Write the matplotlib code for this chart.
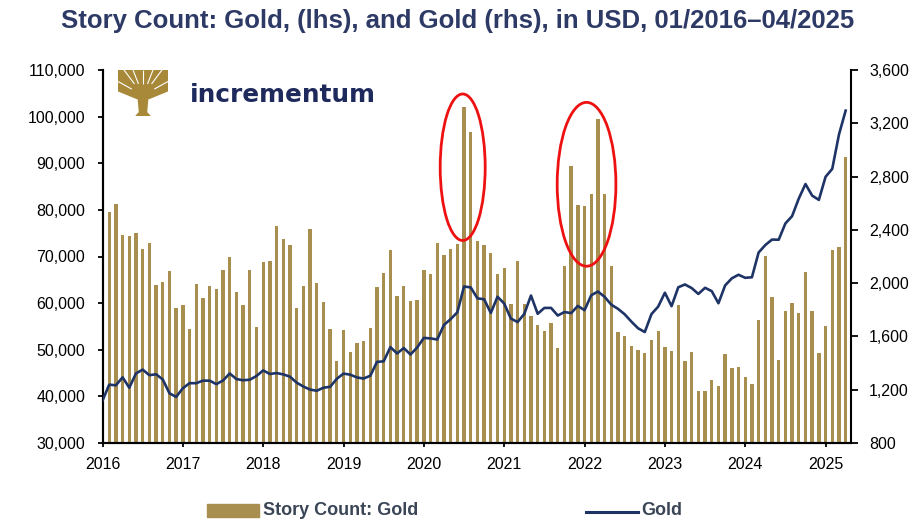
import matplotlib
matplotlib.use("Agg")
import matplotlib.pyplot as plt
from matplotlib.patches import Ellipse, Rectangle, Polygon
from matplotlib.lines import Line2D

plt.rcParams['font.family'] = ['Liberation Sans', 'DejaVu Sans']

# ---------------- data ----------------
year_labels = ['2016', '2017', '2018', '2019', '2020', '2021', '2022', '2023', '2024', '2025']

# monthly story count (bars), Feb 2016 .. Apr 2025 as placed on the chart
story_count = [
    79600, 81300, 74700, 74300, 75000, 71700, 72800, 63900, 64500, 66900, 58900,
    59700, 54500, 64200, 61000, 63600, 63000, 67000, 69900, 62400, 59600, 67000, 54800,
    68900, 69000, 76500, 73800, 72500, 58900, 63700, 75800, 64300, 60300, 54500, 47600,
    54300, 49600, 51500, 51900, 54700, 63400, 66400, 71300, 61600, 63700, 60400, 60600,
    67000, 66200, 73000, 70300, 71600, 72700, 102000, 96600, 73400, 72500, 70800, 66200,
    67500, 59800, 69000, 59800, 57300, 55400, 54000, 55800, 50400, 68000, 89500, 81000,
    80900, 83500, 99400, 83400, 68000, 53700, 53000, 50900, 49900, 49200, 52000, 54000,
    50600, 49800, 59700, 47500, 49500, 41100, 41200, 43500, 42300, 49000, 46100, 46200,
    44200, 42700, 56300, 70200, 61300, 47900, 58300, 60100, 57800, 66700, 58300, 49300,
    55200, 71300, 72100, 91400,
]

# gold price in USD (line, rhs), month-end Jan 2016 .. Apr 2025
gold_price = [
    1118, 1238, 1233, 1293, 1215, 1322, 1351, 1309, 1316, 1277, 1173, 1146,
    1211, 1249, 1249, 1268, 1268, 1242, 1269, 1322, 1280, 1271, 1275, 1303,
    1345, 1318, 1325, 1315, 1298, 1253, 1224, 1201, 1192, 1215, 1222, 1282,
    1321, 1313, 1292, 1284, 1305, 1409, 1413, 1520, 1472, 1513, 1464, 1517,
    1589, 1585, 1577, 1686, 1730, 1781, 1975, 1968, 1886, 1879, 1776, 1898,
    1847, 1734, 1708, 1769, 1907, 1770, 1814, 1814, 1757, 1783, 1775, 1829,
    1797, 1909, 1937, 1897, 1838, 1807, 1766, 1711, 1661, 1633, 1768, 1824,
    1928, 1827, 1969, 1990, 1963, 1919, 1965, 1940, 1849, 1983, 2036, 2063,
    2040, 2044, 2230, 2286, 2327, 2326, 2448, 2503, 2635, 2744, 2657, 2625,
    2798, 2858, 3115, 3295,
]

left_ticks = [30000, 40000, 50000, 60000, 70000, 80000, 90000, 100000, 110000]
right_ticks = [800, 1200, 1600, 2000, 2400, 2800, 3200, 3600]

title = "Story Count: Gold, (lhs), and Gold (rhs), in USD, 01/2016\u201304/2025"

BAR_COLOR = '#A88F50'
LINE_COLOR = '#1F3466'
TITLE_COLOR = '#2E3A66'
LEG_COLOR = '#3A4556'

# ---------------- figure ----------------
W, H = 921, 520
fig = plt.figure(figsize=(W / 100, H / 100), dpi=100)
x0, x1, y0, y1 = 102.5, 851, 443, 70
ax = fig.add_axes([x0 / W, 1 - y0 / H, (x1 - x0) / W, (y0 - y1) / H])

x_bar = list(range(1, len(story_count) + 1))
x_gold = list(range(len(gold_price)))

ax.bar(x_bar, story_count, width=0.5, color=BAR_COLOR, zorder=2)
ax.set_xlim(0, 111.8)
ax.set_ylim(30000, 110000)
ax.set_yticks(left_ticks)
ax.set_yticklabels([f"{v:,}" for v in left_ticks])
ax.set_xticks([12 * i for i in range(len(year_labels))])
ax.set_xticklabels(year_labels)

ax2 = ax.twinx()
ax2.plot(x_gold, gold_price, color=LINE_COLOR, lw=1.9, zorder=3)
ax2.set_ylim(800, 3600)
ax2.set_yticks(right_ticks)
ax2.set_yticklabels([f"{v:,}" for v in right_ticks])
ax2.set_xlim(0, 111.8)

for a in (ax, ax2):
    a.spines['top'].set_visible(False)
    for s in ('left', 'right', 'bottom'):
        a.spines[s].set_linewidth(1.5)
        a.spines[s].set_color('black')
ax.spines['right'].set_visible(False)

ax.tick_params(axis='y', direction='out', length=3.5, width=1.3, labelsize=11.5, pad=9)
ax.tick_params(axis='x', direction='out', length=3, width=1.3, labelsize=11.5, pad=7)
ax2.tick_params(axis='y', direction='out', length=5, width=1.3, labelsize=11.5, pad=8)

# red ellipses
ax2.add_patch(Ellipse((53.8, 2870), 6.72, 1100, transform=ax2.transData,
                      fill=False, ec='#EE1111', lw=2, zorder=5))
ax2.add_patch(Ellipse((72.3, 2742), 8.77, 1230, transform=ax2.transData,
                      fill=False, ec='#EE1111', lw=2, zorder=5))

# title
fig.text(458 / W, 1 - 21 / H, title, ha='center', va='center', fontsize=18.5,
         weight='bold', color=TITLE_COLOR)

# legend
fig.patches.append(Rectangle((206.7 / W, 1 - 517.3 / H), 52.3 / W, 13.3 / H,
                             transform=fig.transFigure, color=BAR_COLOR))
fig.text(262.7 / W, 1 - 510.5 / H, 'Story Count: Gold', ha='left', va='center',
         fontsize=13, weight='bold', color=LEG_COLOR)
fig.lines.append(Line2D([585.7 / W, 638.3 / W], [1 - 511.7 / H] * 2,
                        transform=fig.transFigure, color=LINE_COLOR, lw=2.2))
fig.text(641.7 / W, 1 - 510.5 / H, 'Gold', ha='left', va='center',
         fontsize=13, weight='bold', color=LEG_COLOR)

# logo
lax = fig.add_axes([118 / W, 1 - 116 / H, 50 / W, 46 / H])
lax.set_xlim(0, 1)
lax.set_ylim(0, 1)
lax.axis('off')
GOLD = '#A8893A'
lax.add_patch(Polygon([(0, 1), (1, 1), (1, 0.55), (0.62, 0.38), (0.38, 0.38), (0, 0.55)],
                      closed=True, color=GOLD))
lax.add_patch(Polygon([(0.40, 0.45), (0.60, 0.45), (0.57, 0.08), (0.64, 0.0),
                       (0.36, 0.0), (0.43, 0.08)], closed=True, color=GOLD))
for ex, ey in [(0.12, 1.0), (0.3, 1.0), (0.5, 1.0), (0.7, 1.0), (0.88, 1.0),
               (1.0, 0.75), (0.0, 0.75)]:
    sx = 0.5 + (ex - 0.5) * 0.45
    sy = 0.45 + (ey - 0.45) * 0.45
    lax.plot([sx, ex], [sy, ey], color='white', lw=0.8, solid_capstyle='butt')
fig.text(190 / W, 1 - 102 / H, 'incrementum', ha='left', va='baseline',
         fontsize=17.8, weight='bold', color='#1F2A5C', family='DejaVu Sans')

fig.savefig('out.png', dpi=100)
